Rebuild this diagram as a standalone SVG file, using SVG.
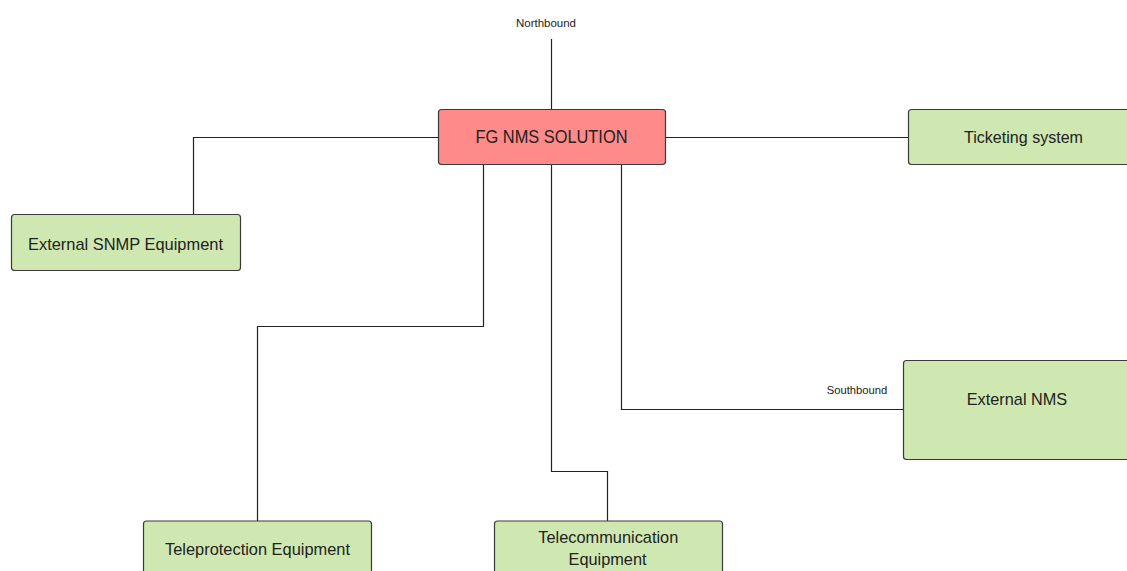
<svg xmlns="http://www.w3.org/2000/svg" width="1127" height="571" viewBox="0 0 1127 571">
<style>
.box{fill:#cfe8b1;stroke:#3a3a3a;stroke-width:1.2}
.main{fill:#ff8a8a;stroke:#3a3a3a;stroke-width:1.2}
.t{font-family:"Liberation Sans",Arial,sans-serif;font-size:17px;fill:#222;text-anchor:middle}
.s{font-family:"Liberation Sans",Arial,sans-serif;font-size:11px;fill:#222;text-anchor:middle}
.c{fill:none;stroke:#222;stroke-width:1.2}
</style>
<rect width="1127" height="571" fill="#fff"/>
<g id="connectors">
<path class="c" d="M551.5 39V109.5"/>
<path class="c" d="M438.5 137.5H193.5V214.5"/>
<path class="c" d="M665.5 137.5H908.5"/>
<path class="c" d="M483.5 164.5V326.5H257.5V521"/>
<path class="c" d="M551.5 164.5V471.5H607.5V521"/>
<path class="c" d="M621.5 164.5V409.5H903.5"/>
</g>
<g id="labels">
<text class="s" x="546" y="26.5" textLength="60" lengthAdjust="spacingAndGlyphs">Northbound</text>
<text class="s" x="857" y="393.5" textLength="60.5" lengthAdjust="spacingAndGlyphs">Southbound</text>
</g>
<g id="fg-nms">
<rect class="main" x="438.5" y="109.5" width="227" height="55" rx="3"/>
<text class="t" x="551.5" y="143.3" style="font-size:18px" textLength="152" lengthAdjust="spacingAndGlyphs">FG NMS SOLUTION</text>
</g>
<g id="external-snmp">
<rect class="box" x="11.5" y="214.5" width="229" height="56" rx="3"/>
<text class="t" x="125.5" y="250" textLength="195" lengthAdjust="spacingAndGlyphs">External SNMP Equipment</text>
</g>
<g id="ticketing">
<rect class="box" x="908.5" y="109.5" width="240" height="55" rx="3"/>
<text class="t" x="1023.5" y="143" textLength="119" lengthAdjust="spacingAndGlyphs">Ticketing system</text>
</g>
<g id="external-nms">
<rect class="box" x="903.5" y="360.5" width="240" height="99" rx="3"/>
<text class="t" x="1017" y="405" textLength="100.5" lengthAdjust="spacingAndGlyphs">External NMS</text>
</g>
<g id="teleprotection">
<rect class="box" x="143.5" y="521" width="228" height="60" rx="3"/>
<text class="t" x="257.5" y="555" textLength="185" lengthAdjust="spacingAndGlyphs">Teleprotection Equipment</text>
</g>
<g id="telecommunication">
<rect class="box" x="494.5" y="521" width="228" height="60" rx="3"/>
<text class="t" x="608.3" y="543.3" textLength="140" lengthAdjust="spacingAndGlyphs">Telecommunication</text>
<text class="t" x="607.5" y="565" textLength="78" lengthAdjust="spacingAndGlyphs">Equipment</text>
</g>
</svg>
